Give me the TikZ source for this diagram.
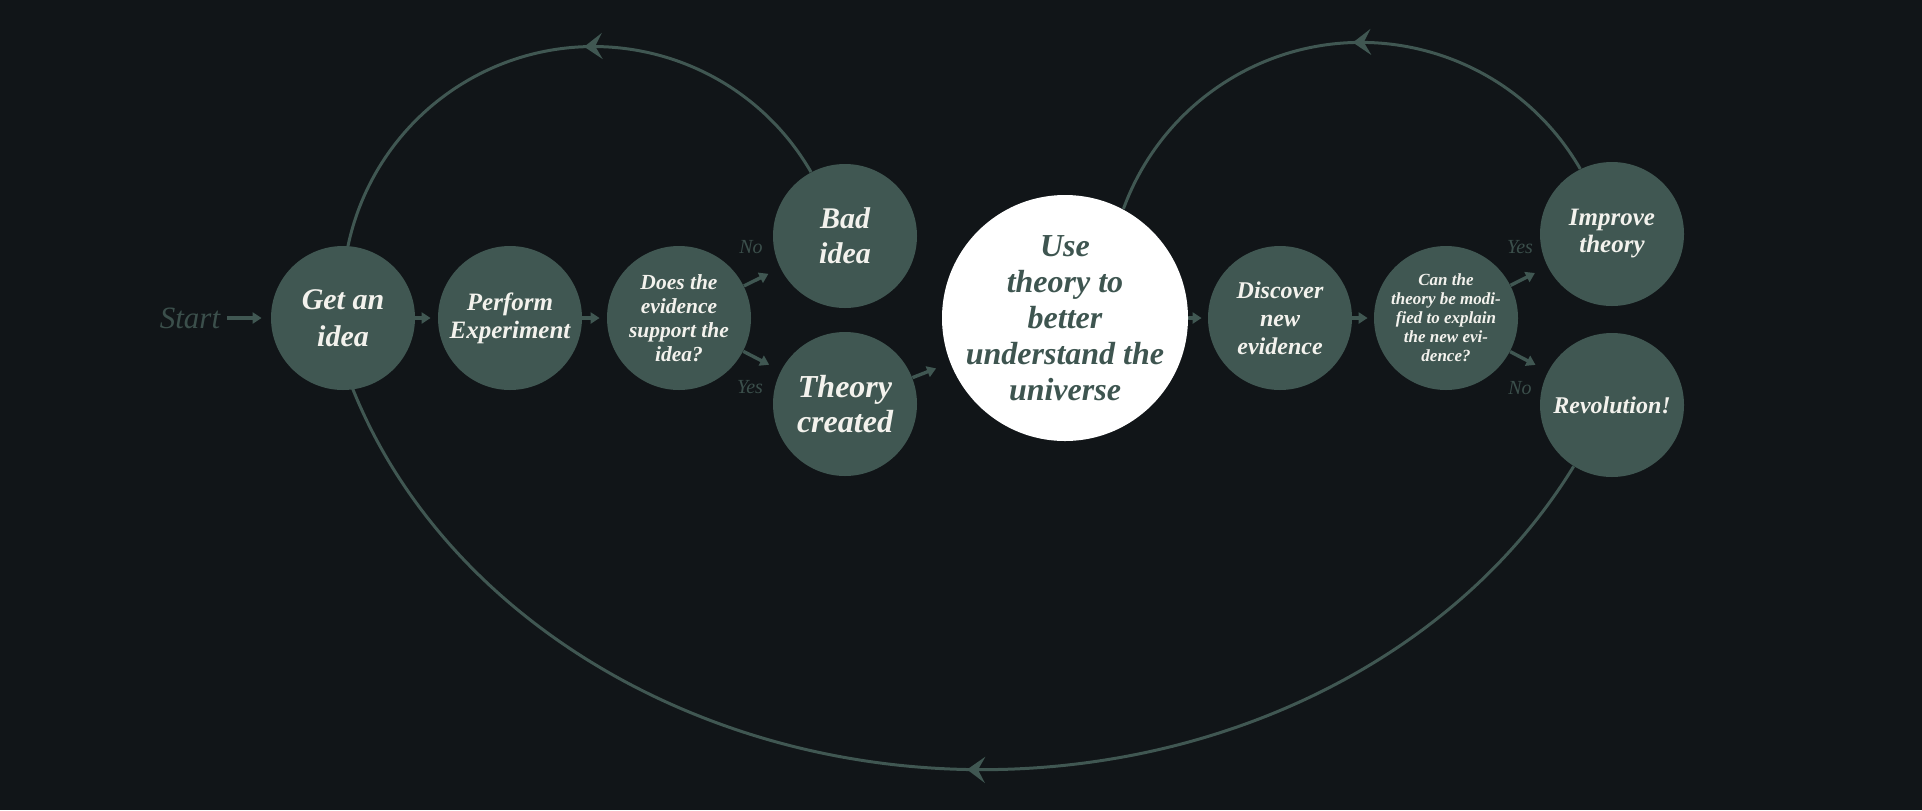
\documentclass[tikz,border=0pt]{standalone}
\usepackage{fontspec}
\setmainfont{Liberation Serif}
\usetikzlibrary{arrows.meta,decorations.markings}
\definecolor{bgc}{HTML}{111518}
\definecolor{sage}{HTML}{405752}
\definecolor{sagetext}{HTML}{3E5550}
\definecolor{dimlbl}{HTML}{3B4F4B}
\definecolor{ink}{HTML}{F3F2ED}
\pgfdeclarelayer{canvas}
\pgfdeclarelayer{links}
\pgfsetlayers{canvas,links,main}
\begin{document}
\begin{tikzpicture}[x=0.5pt,y=0.5pt,
  bubble/.style 2 args={circle, fill=sage, minimum size=72pt, inner sep=-20pt,
    align=center, text=ink, font=\bfseries\itshape\fontsize{#1}{#2}\selectfont},
  bigbubble/.style={circle, fill=white, minimum size=123pt, inner sep=-30pt,
    align=center, text=sagetext, font=\bfseries\itshape\fontsize{16}{18}\selectfont},
  link/.style={draw=sage, line width=1.7pt, -{Triangle[length=4.5pt,width=5.5pt]}},
  loopline/.style={draw=sage, line width=1.5pt},
  loopmark/.style={postaction={decorate, decoration={markings,
    mark=at position #1 with {\arrow{Stealth[length=9pt,width=13pt,inset=3.5pt]}}}}},
  lbl/.style={text=dimlbl, font=\itshape\fontsize{10}{12}\selectfont},
]
\begin{pgfonlayer}{canvas}
  \fill[bgc] (0,0) rectangle (1922,-810);
\end{pgfonlayer}
\useasboundingbox (0,0) rectangle (1922,-810);

% nodes
\node[lbl, font=\itshape\fontsize{15.5}{18}\selectfont] (start) at (190,-318) {Start};
\node[bubble={15}{18.5}] (idea) at (343,-318) {Get an\\idea};
\node[bubble={12.5}{14}] (exp) at (510,-318) {Perform\\Experiment};
\node[bubble={10.75}{12}] (does) at (679,-318) {Does the\\evidence\\support the\\idea?};
\node[bubble={15}{17.5}] (bad) at (845,-236) {Bad\\idea};
\node[bubble={16}{17.5}] (theory) at (845,-404) {Theory\\created};
\node[bigbubble] (use) at (1065,-318) {Use\\theory to\\better\\understand the\\universe};
\node[bubble={12}{14}] (disc) at (1280,-318) {Discover\\new\\evidence};
\node[bubble={8.5}{9.5}] (can) at (1446,-318) {Can the\\theory be modi-\\fied to explain\\the new evi-\\dence?};
\node[bubble={12.5}{13.5}] (imp) at (1612,-234) {Improve\\theory};
\node[bubble={12}{14}] (rev) at (1612,-405) {Revolution!};

\node[lbl] (no1) at (751,-247) {No};
\node[lbl] (yes1) at (750,-387) {Yes};
\node[lbl] (yes2) at (1520,-247) {Yes};
\node[lbl] (no2) at (1520,-388) {No};

\begin{pgfonlayer}{links}
  \draw[link, shorten >=4.5pt] (start) -- (idea);
  \draw[link, shorten >=3.5pt] (idea) -- (exp);
  \draw[link, shorten >=3.5pt] (exp) -- (does);
  \draw[link, shorten >=6.5pt] (does) -- (bad);
  \draw[link, shorten >=6.5pt] (does) -- (theory);
  \draw[link, shorten >=7.5pt] (theory) -- (use);
  \draw[link, shorten >=3pt] (use) -- (disc);
  \draw[link, shorten >=3pt] (disc) -- (can);
  \draw[link, shorten >=7pt] (can) -- (imp);
  \draw[link, shorten >=7pt] (can) -- (rev);
  \draw[loopline, loopmark=0.444] (bad.118) arc[start angle=30, end angle=170, radius=251];
  \draw[loopline, loopmark=0.476] (imp.116) arc[start angle=30, end angle=160, radius=253];
  \draw[loopline, loopmark=0.479] (rev.238) arc[start angle=-27.3, end angle=-162, x radius=665, y radius=560];
\end{pgfonlayer}
\end{tikzpicture}
\end{document}
